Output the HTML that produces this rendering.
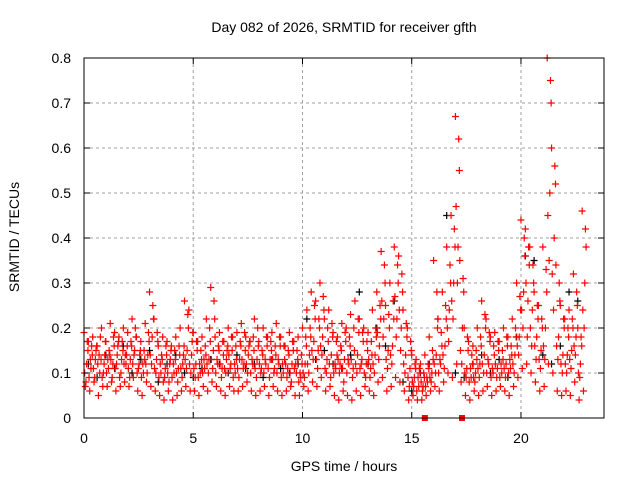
<!DOCTYPE html>
<html><head><meta charset="utf-8">
<style>
body{margin:0;background:#fff;}
svg{display:block;font-family:"Liberation Sans",sans-serif;}
</style></head>
<body>
<svg id="chart" width="640" height="480" viewBox="0 0 640 480">
<rect width="640" height="480" fill="#fff"/>
<text x="344" y="32" font-size="14" text-anchor="middle">Day 082 of 2026, SRMTID for receiver gfth</text>
<text transform="translate(19,237) rotate(-90)" font-size="14" text-anchor="middle">SRMTID / TECUs</text>
<text x="344" y="471" font-size="14" text-anchor="middle">GPS time / hours</text>
<g id="grid"></g>
<g id="black"></g>
<g id="red"></g>
<rect x="84" y="58" width="520" height="360" fill="none" stroke="#000" stroke-width="1"/>
<g id="ticks"></g>
</svg>
<script>
const xTicks=[0,5,10,15,20];
const yTicks=[0,0.1,0.2,0.3,0.4,0.5,0.6,0.7,0.8];
const yTickLabels=["0","0.1","0.2","0.3","0.4","0.5","0.6","0.7","0.8"];
// red series (values in hundredths of TECU), sampled every 0.2 h
const redStep=0.2;
const redHi=[19,17,18,16,20,17,21,19,18,20,19,22,18,17,21,28,22,16,18,17,16,18,20,26,24,19,17,18,22,29,18,19,17,20,18,19,21,18,17,22,17,20,18,19,21,18,16,19,17,18,20,24,28,26,30,22,24,19,18,21,20,23,26,22,20,19,24,28,37,25,30,38,36,24,20,14,13,12,14,18,35,22,28,38,45,67,35,20,17,16,20,26,22,18,19,17,20,18,22,30,44,42,38,28,25,38,80,60,34,25,22,24,32,20,46];
const redA=[10,9,11,12,9,10,13,11,9,12,11,12,10,9,12,14,11,9,8,10,9,10,11,13,12,11,9,10,12,13,10,12,11,14,9,11,13,12,10,11,12,10,11,13,10,9,12,10,11,8,10,12,15,13,16,11,12,10,13,11,10,13,12,11,10,13,12,19,26,13,14,27,24,12,9,8,6,8,7,9,12,10,14,20,26,47,15,10,8,9,11,12,10,9,12,9,11,10,12,16,24,30,20,16,13,16,45,32,16,12,12,13,16,10,24];
const redLo=[7,6,8,5,7,7,8,6,7,8,7,9,6,5,8,7,6,5,4,6,4,5,6,7,6,6,5,7,6,8,7,6,5,7,6,6,7,8,6,5,6,7,5,7,6,5,6,7,5,5,7,6,8,7,9,6,7,5,4,6,5,4,6,5,7,6,5,8,9,6,7,9,8,6,4,5,4,4,5,6,7,6,8,10,9,12,8,5,4,6,5,6,7,5,6,7,6,5,7,9,11,12,10,8,6,7,12,10,6,5,6,5,8,4,6];
const redB=[8,13,9,14,10,13,9,12,10,14,9,14,11,12,10,12,10,12,9,8,12,8,9,11,10,9,12,13,10,11,13,9,10,11,12,9,11,10,13,9,10,13,9,10,13,12,9,8,12,10,9,10,13,11,14,10,9,12,10,8,13,9,10,12,9,9,10,13,18,11,12,18,15,10,7,7,9,6,9,8,10,13,11,17,22,30,12,9,11,8,9,10,13,11,9,12,9,13,10,14,20,18,16,13,11,13,35,24,13,10,10,11,14,9,20];
const redMid=[12,11,13,10,12,11,12,14,13,12,13,15,12,10,14,18,13,10,11,12,10,11,12,15,14,12,10,11,13,15,12,11,13,12,10,13,12,14,12,13,11,12,13,11,12,10,11,12,10,9,12,14,17,15,18,13,14,11,12,13,12,11,14,13,12,11,14,16,22,15,16,22,20,14,11,9,7,7,8,10,14,12,16,24,30,38,20,11,9,10,12,14,12,10,11,10,12,11,14,18,28,26,24,18,15,20,50,40,18,14,14,15,18,12,30];
const redC=[17,16,15,18,14,15,18,16,17,14,17,20,14,15,19,25,19,14,16,13,15,16,14,23,17,17,15,16,20,26,16,17,15,18,16,17,19,16,18,20,15,18,17,16,18,16,15,17,15,14,18,20,25,22,27,20,21,17,16,19,18,20,22,19,17,17,20,25,34,23,26,34,32,21,17,12,11,10,12,15,28,19,25,34,42,62,31,18,14,15,18,23,19,16,17,15,18,16,20,27,40,38,34,25,22,33,75,56,30,22,20,22,28,18,42];
const redQ=[15,14,16,13,17,14,16,17,15,16,16,18,15,13,17,22,17,13,14,15,13,14,16,20,19,15,13,14,17,22,15,14,16,15,13,16,15,17,15,16,14,16,15,14,16,13,14,15,13,12,16,18,22,20,24,17,18,14,15,17,16,15,19,17,15,14,18,22,30,20,22,30,28,18,15,11,10,9,11,13,20,16,22,30,38,55,28,15,12,13,16,20,17,14,15,13,16,14,18,24,36,34,30,22,20,28,70,52,26,20,18,20,25,16,38];
// black series, sampled every 0.4 h
const blackStep=0.4;
const blackVals=[12,9,14,11,16,10,13,15,8,12,14,10,9,11,13,12,10,14,11,12,9,13,11,10,12,22,13,15,12,11,14,28,12,20,16,26,8,6,10,12,22,45,10,9,12,14,10,13,9,18,36,35,14,12,16,28,26];
// flagged points at zero
const flagTimes=[15.6,17.3];

const X0=84,X1=604,Y0=418,Y1=58,XMAX=23.8,YMAX=0.8;
const xs=t=>X0+(t/XMAX)*(X1-X0);
const ys=v=>Y0-(v/YMAX)*(Y0-Y1);
const NS="http://www.w3.org/2000/svg";
function mk(tag,attrs,parent){const e=document.createElementNS(NS,tag);for(const k in attrs)e.setAttribute(k,attrs[k]);parent.appendChild(e);return e;}
const grid=document.getElementById('grid'),ticks=document.getElementById('ticks');
xTicks.forEach(t=>{
  const x=xs(t);
  if(t>0){const g=mk('line',{x1:x,x2:x,y1:Y1,y2:Y0,stroke:'#a0a0a0','stroke-dasharray':'3,3'},grid);
  
  }
  mk('line',{x1:x,x2:x,y1:Y0,y2:Y0-6,stroke:'#000'},ticks);
  mk('line',{x1:x,x2:x,y1:Y1,y2:Y1+6,stroke:'#000'},ticks);
  const l=mk('text',{x:x,y:443,'font-size':14,'text-anchor':'middle'},ticks);l.textContent=t;
  
  
});
yTicks.forEach((v,i)=>{
  const y=ys(v);
  if(v>0&&v<YMAX){const g=mk('line',{x1:X0,x2:X1,y1:y,y2:y,stroke:'#a0a0a0','stroke-dasharray':'3,3'},grid);
  
  }
  mk('line',{x1:X0,x2:X0+6,y1:y,y2:y,stroke:'#000'},ticks);
  mk('line',{x1:X1,x2:X1-6,y1:y,y2:y,stroke:'#000'},ticks);
  const l=mk('text',{x:71,y:y+5,'font-size':14,'text-anchor':'end'},ticks);l.textContent=yTickLabels[i];
  
  
});
function plus(t,v,color,parent,name){
  const x=xs(t),y=ys(v);
  const p=mk('path',{d:`M${x-3.5},${y}h7M${x},${y-3.5}v7`,stroke:color,'stroke-width':1.2,fill:'none'},parent);
  
  
}
const bg=document.getElementById('black'),rg=document.getElementById('red');
blackVals.forEach((v,i)=>plus(blackStep*i+0.2,v/100,'#000',bg,'black-point'));
[[redHi,0],[redA,0.03],[redLo,0.06],[redB,0.09],[redMid,0.12],[redC,0.15],[redQ,0.18]].forEach(([arr,off])=>{
  arr.forEach((v,i)=>plus(redStep*i+off,v/100,'#f00',rg,'red-point'));
});
flagTimes.forEach(t=>{
  const r=mk('rect',{x:xs(t)-3,y:Y0-3,width:6,height:6,fill:'#f00'},rg);
  
  
});
</script>
</body></html>
